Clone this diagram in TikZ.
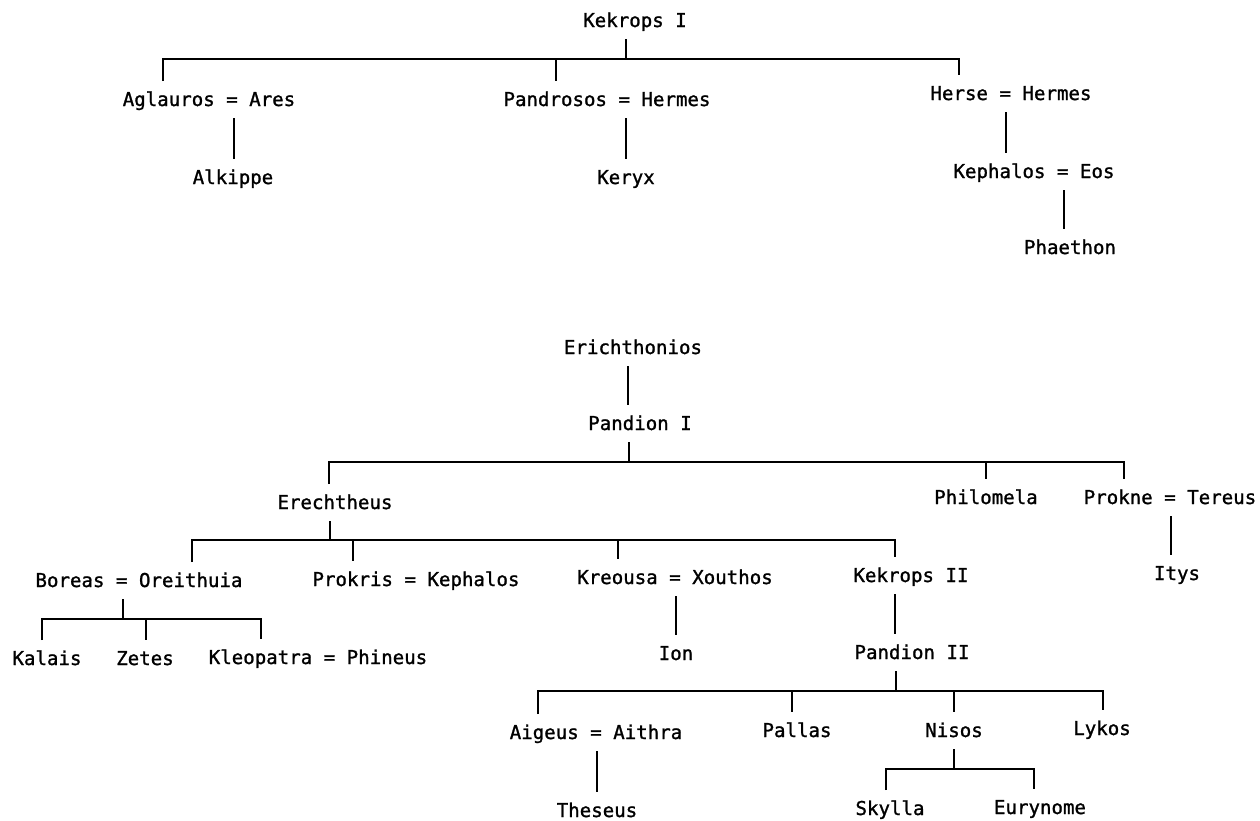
\documentclass[tikz,border=0pt]{standalone}
\usepackage{fontspec}
\newfontfamily\treefont{DejaVu Sans Mono}[FakeBold=1.2]
\tikzset{
  person/.style={font=\treefont\fontsize{19.1}{22}\selectfont, inner sep=0pt,
    text height=18pt, text depth=5pt, outer ysep=7pt, anchor=base},
  link/.style={line width=1.1pt, draw=black}
}
\begin{document}
\begin{tikzpicture}[x=1pt, y=-1pt]
\useasboundingbox[fill=white] (0,0) rectangle (1260,820);

% ---------- House of Kekrops I ----------
\node[person] (k1)  at (635,27)  {Kekrops I};
\node[person] (ag)  at (209,106) {Aglauros = Ares};
\node[person] (pd)  at (607,106) {Pandrosos = Hermes};
\node[person] (hs)  at (1011,100) {Herse = Hermes};
\node[person] (al)  at (233,184) {Alkippe};
\node[person] (ke)  at (626,184) {Keryx};
\node[person] (kph) at (1034,178) {Kephalos = Eos};
\node[person] (ph)  at (1070,254) {Phaethon};

\coordinate (t-k1) at (626,59);
\coordinate (t-ag) at (163,59);
\coordinate (t-pd) at (556,59);
\coordinate (t-hs) at (959,59);
\coordinate (l-ag) at (234,0);
\coordinate (l-pd) at (626,0);
\coordinate (l-hs) at (1006,0);
\coordinate (l-kph) at (1064,0);

\draw[link] (k1.south -| t-k1) -- (t-k1);
\draw[link] (t-ag |- ag.north) -- (t-ag) -- (t-hs) -- (t-hs |- hs.north);
\draw[link] (t-pd) -- (t-pd |- pd.north);
\draw[link] (ag.south -| l-ag) -- (al.north -| l-ag);
\draw[link] (pd.south -| l-pd) -- (ke.north -| l-pd);
\draw[link] (hs.south -| l-hs) -- (kph.north -| l-hs);
\draw[link] (kph.south -| l-kph) -- (ph.north -| l-kph);

% ---------- House of Erichthonios ----------
\node[person] (er)  at (633,354) {Erichthonios};
\node[person] (p1)  at (640,430) {Pandion I};
\node[person] (eh)  at (335,509) {Erechtheus};
\node[person] (phm) at (986,504) {Philomela};
\node[person] (pk)  at (1170,504) {Prokne = Tereus};
\node[person] (it)  at (1177,580) {Itys};
\node[person] (bo)  at (139,587) {Boreas = Oreithuia};
\node[person] (pr)  at (416,586) {Prokris = Kephalos};
\node[person] (kr)  at (675,584) {Kreousa = Xouthos};
\node[person] (k2)  at (911,582) {Kekrops II};
\node[person] (ka)  at (47,665)  {Kalais};
\node[person] (ze)  at (145,665) {Zetes};
\node[person] (kl)  at (318,664) {Kleopatra = Phineus};
\node[person] (io)  at (676,660) {Ion};
\node[person] (p2)  at (912,659) {Pandion II};
\node[person] (ai)  at (596,739) {Aigeus = Aithra};
\node[person] (pa)  at (797,737) {Pallas};
\node[person] (ni)  at (954,737) {Nisos};
\node[person] (ly)  at (1102,735) {Lykos};
\node[person] (th)  at (597,817) {Theseus};
\node[person] (sk)  at (890,815) {Skylla};
\node[person] (eu)  at (1040,814) {Eurynome};

\coordinate (l-er) at (628,0);
\coordinate (t-p1) at (629,462);
\coordinate (t-eh) at (329,462);
\coordinate (t-phm) at (986,462);
\coordinate (t-pk) at (1124,462);
\coordinate (l-pk) at (1171,0);
\coordinate (t-ehd) at (330,540);
\coordinate (t-bo) at (192,540);
\coordinate (t-pr) at (353,540);
\coordinate (t-kr) at (618,540);
\coordinate (t-k2) at (895,540);
\coordinate (t-bod) at (123,619);
\coordinate (t-ka) at (42,619);
\coordinate (t-ze) at (146,619);
\coordinate (t-kl) at (261,619);
\coordinate (l-kr) at (676,0);
\coordinate (l-k2) at (895,0);
\coordinate (t-p2d) at (896,691);
\coordinate (t-ai) at (538,691);
\coordinate (t-pa) at (792,691);
\coordinate (t-ni) at (954,691);
\coordinate (t-ly) at (1103,691);
\coordinate (l-ai) at (597,0);
\coordinate (t-nid) at (954,769);
\coordinate (t-sk) at (886,769);
\coordinate (t-eu) at (1034,769);

\draw[link] (er.south -| l-er) -- (p1.north -| l-er);
% children of Pandion I
\draw[link] (p1.south -| t-p1) -- (t-p1);
\draw[link] (t-eh |- eh.north) -- (t-eh) -- (t-pk) -- (t-pk |- pk.north);
\draw[link] (t-phm) -- (t-phm |- phm.north);
\draw[link] (pk.south -| l-pk) -- (it.north -| l-pk);
% children of Erechtheus
\draw[link] (eh.south -| t-ehd) -- (t-ehd);
\draw[link] (t-bo |- bo.north) -- (t-bo) -- (t-k2) -- (t-k2 |- k2.north);
\draw[link] (t-pr) -- (t-pr |- pr.north);
\draw[link] (t-kr) -- (t-kr |- kr.north);
% children of Boreas and Oreithuia
\draw[link] (bo.south -| t-bod) -- (t-bod);
\draw[link] (t-ka |- ka.north) -- (t-ka) -- (t-kl) -- (t-kl |- kl.north);
\draw[link] (t-ze) -- (t-ze |- ze.north);
\draw[link] (kr.south -| l-kr) -- (io.north -| l-kr);
\draw[link] (k2.south -| l-k2) -- (p2.north -| l-k2);
% children of Pandion II
\draw[link] (p2.south -| t-p2d) -- (t-p2d);
\draw[link] (t-ai |- ai.north) -- (t-ai) -- (t-ly) -- (t-ly |- ly.north);
\draw[link] (t-pa) -- (t-pa |- pa.north);
\draw[link] (t-ni) -- (t-ni |- ni.north);
\draw[link] (ai.south -| l-ai) -- (th.north -| l-ai);
% children of Nisos
\draw[link] (ni.south -| t-nid) -- (t-nid);
\draw[link] (t-sk |- sk.north) -- (t-sk) -- (t-eu) -- (t-eu |- eu.north);
\end{tikzpicture}
\end{document}
